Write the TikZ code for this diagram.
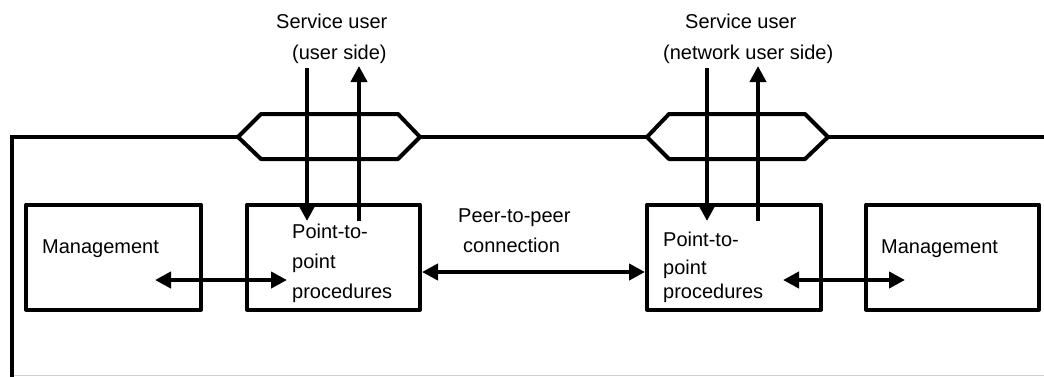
\documentclass[tikz,border=0pt]{standalone}
\usepackage{fontspec}
\setmainfont{Liberation Sans}
\usetikzlibrary{arrows.meta}

\tikzset{
  heavy/.style={line width=4pt, line join=round},
  block/.style={heavy, draw, rectangle, inner sep=0pt},
  label/.style={inner sep=0pt, anchor=base west, font=\fontsize{20pt}{24pt}\selectfont},
  tip/.style={-{Triangle[length=16pt, width=16pt]}},
  twotip/.style={{Triangle[length=16pt, width=16pt]}-{Triangle[length=16pt, width=16pt]}},
}

\begin{document}
\begin{tikzpicture}[x=1pt, y=-1pt]
\useasboundingbox (0,0) rectangle (1044,376);

% thin grey rule along the bottom
\draw[line width=1pt, black!18] (14,375) -- (1044,375);

% functional blocks
\node[block, minimum width=175pt, minimum height=105pt] (mgmtL) at (113.5,257) {};
\node[block, minimum width=173pt, minimum height=105pt] (ptpL)  at (333.5,257) {};
\node[block, minimum width=174pt, minimum height=105pt] (ptpR)  at (734,257) {};
\node[block, minimum width=173pt, minimum height=105pt] (mgmtR) at (952.5,257) {};

% service access points on the boundary
\coordinate (hAw) at (238,137);
\coordinate (hAe) at (420,137);
\coordinate (hBw) at (647,137);
\coordinate (hBe) at (828,137);
\draw[heavy] (hAw) -- (261,114) -- (398,114) -- (hAe) -- (398,159) -- (261,159) -- cycle;
\draw[heavy] (hBw) -- (669,114) -- (805,114) -- (hBe) -- (805,159) -- (669,159) -- cycle;

% system boundary
\coordinate (frameBL) at (12,378);
\coordinate (frameTL) at (12,137);
\coordinate (frameTR) at (1046,137);
\draw[heavy, line join=miter] (frameBL) -- (frameTL) -- (hAw);
\draw[heavy] (hAe) -- (hBw);
\draw[heavy] (hBe) -- (frameTR);

% primitives to and from the service users
\coordinate (uAin)  at (307,68);
\coordinate (uAinE) at (307,221);
\coordinate (uAout) at (359,221);
\coordinate (uAoutE) at (359,66);
\coordinate (uBin)  at (707,68);
\coordinate (uBinE) at (707,221);
\coordinate (uBout) at (758,221);
\coordinate (uBoutE) at (758,66);
\draw[heavy, tip] (uAin) -- (uAinE);
\draw[heavy, tip] (uAout) -- (uAoutE);
\draw[heavy, tip] (uBin) -- (uBinE);
\draw[heavy, tip] (uBout) -- (uBoutE);

% peer-to-peer connection
\draw[heavy, twotip] ([yshift=-15pt]ptpL.east) -- ([yshift=-15pt]ptpR.west);

% management interactions
\coordinate (mA1) at (155,280);
\coordinate (mA2) at (287,280);
\coordinate (mB1) at (783,280);
\coordinate (mB2) at (905,280);
\draw[heavy, twotip] (mA1) -- (mA2);
\draw[heavy, twotip] (mB1) -- (mB2);

% texts
\node[label] (sAa) at (276,28) {Service user};
\node[label] (sAb) at (292,59) {(user side)};
\node[label] (sBa) at (685,28) {Service user};
\node[label] (sBb) at (663,59) {(network user side)};

\node[label] (peer1) at (458,222) {Peer-to-peer};
\node[label] (peer2) at (463,252) {connection};

\node[label] (mgL) at (42,253) {Management};
\node[label] (mgR) at (881,253) {Management};

\node[label] (pLa) at (292,238) {Point-to-};
\node[label] (pLb) at (292,268) {point};
\node[label] (pLc) at (292,298) {procedures};

\node[label] (pRa) at (663,246) {Point-to-};
\node[label] (pRb) at (663,274) {point};
\node[label] (pRc) at (663,298) {procedures};
\end{tikzpicture}
\end{document}
